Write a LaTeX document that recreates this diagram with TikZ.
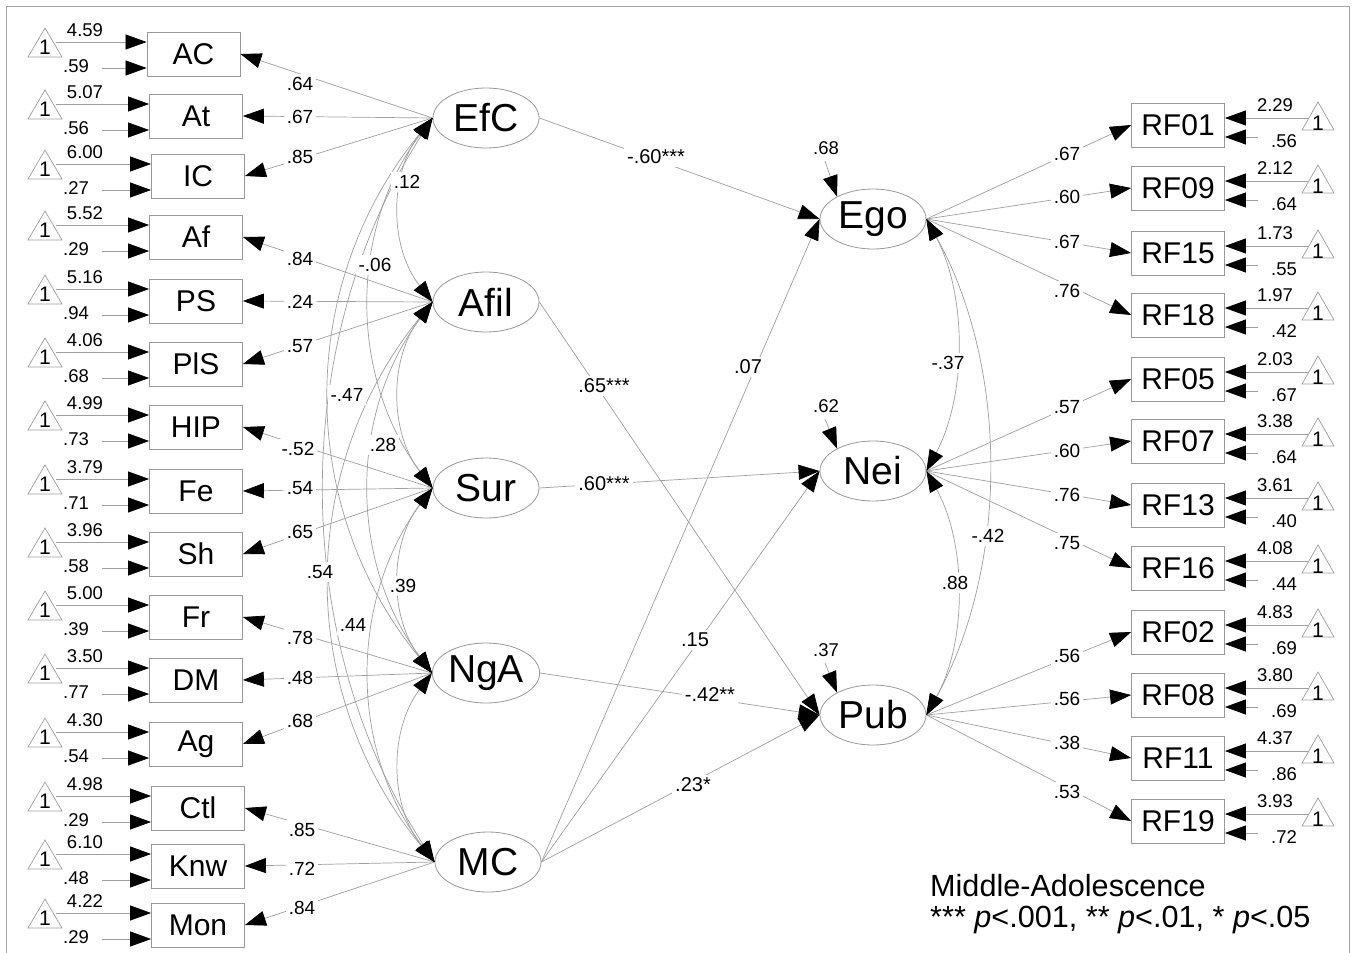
\documentclass[tikz,border=0pt]{standalone}
\usepackage{fontspec}
\setmainfont{Liberation Sans}
\usetikzlibrary{arrows.meta,shapes.geometric}
\begin{document}
\begin{tikzpicture}[x=1pt,y=-1pt,
  ln/.style={draw=gray!75, line width=0.7pt},
  tip/.tip={Triangle[length=21pt,width=15pt,color=black]},
  arr/.style={ln, -tip},
  darr/.style={ln, tip-tip},
  ind/.style={draw=gray!80, line width=0.8pt, minimum width=93pt, minimum height=44pt, inner sep=0pt, font=\fontsize{30}{32}\selectfont},
  lat/.style={draw=gray!80, line width=0.8pt, ellipse, minimum width=106pt, minimum height=60pt, inner sep=0pt, font=\fontsize{39}{40}\selectfont},
  num/.style={font=\fontsize{18.5}{20}\selectfont, inner sep=1pt},
  lab/.style={font=\fontsize{19}{20}\selectfont, fill=white, inner sep=3pt},
  slab/.style={font=\fontsize{20}{22}\selectfont, fill=white, inner sep=3pt},
  one/.style={font=\fontsize{21}{22}\selectfont, inner sep=0pt},
  tri/.style={draw=gray!75, line width=0.7pt},
  legend/.style={font=\fontsize{30.6}{32}\selectfont, anchor=west, inner sep=0pt}
]
\useasboundingbox (0,0) rectangle (1353,953);
\draw[gray!70, line width=0.8pt] (6,965) -- (6,6) -- (1349,6) -- (1349,965);

% latent variables
\node[lat] (EfC) at (486,118) {EfC};
\node[lat] (Afil) at (486,302) {Afil};
\node[lat] (Sur) at (486,488) {Sur};
\node[lat] (NgA) at (486,673) {NgA};
\node[lat] (MC) at (488,862) {MC};
\node[lat] (Ego) at (873,219) {Ego};
\node[lat] (Nei) at (873,471) {Nei};
\node[lat] (Pub) at (873,715) {Pub};

% left indicators
\foreach \n/\c/\bx/\m/\v in {AC/54/193.5/4.59/.59, At/116/196/5.07/.56, IC/176/198/6.00/.27,
  Af/237/196/5.52/.29, PS/301/196/5.16/.94, PlS/364/196/4.06/.68, HIP/427/196/4.99/.73,
  Fe/491/196/3.79/.71, Sh/554/196/3.96/.58, Fr/617/196/5.00/.39, DM/680/196/3.50/.77,
  Ag/744/196/4.30/.54, Ctl/808/198/4.98/.29, Knw/866/198/6.10/.48, Mon/925/198/4.22/.29}{
  \node[ind] (\n) at (\bx,\c) {\n};
  \draw[tri] (45,\c-26) -- (62,\c+3) -- (28,\c+3) -- cycle;
  \node[one] (t\n) at (45,\c-7) {1};
  \coordinate (m\n) at (56,\c-12);
  \coordinate (v\n) at (102,\c+14);
  \draw[arr] (m\n) -- (m\n -| \n.west);
  \draw[arr] (v\n) -- (v\n -| \n.west);
  \node[num] (mm\n) at (85,\c-24) {\m};
  \node[num] (vv\n) at (76,\c+12) {\v};
}

% right indicators
\foreach \n/\c/\m/\v in {RF01/125/2.29/.56, RF09/188/2.12/.64, RF15/253/1.73/.55, RF18/315/1.97/.42,
  RF05/379/2.03/.67, RF07/441/3.38/.64, RF13/505/3.61/.40, RF16/568/4.08/.44,
  RF02/632/4.83/.69, RF08/695/3.80/.69, RF11/758/4.37/.86, RF19/821/3.93/.72}{
  \node[ind] (\n) at (1178,\c) {\n};
  \draw[tri] (1318,\c-23) -- (1334,\c+5) -- (1302,\c+5) -- cycle;
  \node[one] (t\n) at (1318,\c-2) {1};
  \coordinate (m\n) at (1309,\c-7);
  \coordinate (v\n) at (1258,\c+12);
  \draw[arr] (m\n) -- (m\n -| \n.east);
  \draw[arr] (v\n) -- (v\n -| \n.east);
  \node[num] (mm\n) at (1275,\c-20) {\m};
  \node[num] (vv\n) at (1284,\c+16) {\v};
}

% loadings (lines)
\foreach \l/\i in {EfC/AC, EfC/At, EfC/IC, Afil/Af, Afil/PS, Afil/PlS, Sur/HIP, Sur/Fe, Sur/Sh,
  NgA/Fr, NgA/DM, NgA/Ag, MC/Ctl, MC/Knw, MC/Mon}{
  \draw[arr] (\l.west) -- (\i.east);
}
\foreach \l/\i in {Ego/RF01, Ego/RF09, Ego/RF15, Ego/RF18, Nei/RF05, Nei/RF07, Nei/RF13, Nei/RF16,
  Pub/RF02, Pub/RF08, Pub/RF11, Pub/RF19}{
  \draw[arr] (\l.east) -- (\i.west);
}

% covariances left
\draw[darr] (EfC.west) .. controls (389,173) and (389,247) .. (Afil.west);
\draw[darr] (Afil.west) .. controls (389,358) and (389,432) .. (Sur.west);
\draw[darr] (Sur.west) .. controls (389,544) and (389,617) .. (NgA.west);
\draw[darr] (NgA.west) .. controls (389,730) and (389,805) .. (MC.west);
\draw[darr] (EfC.west) .. controls (349,229) and (349,377) .. (Sur.west);
\draw[darr] (Afil.west) .. controls (349,413) and (349,562) .. (NgA.west);
\draw[darr] (Sur.west) .. controls (349,600) and (349,750) .. (MC.west);
\draw[darr] (EfC.west) .. controls (296,285) and (296,506) .. (NgA.west);
\draw[darr] (Afil.west) .. controls (296,470) and (296,694) .. (MC.west);
\draw[darr] (EfC.west) .. controls (289,341) and (289,639) .. (MC.west);

% covariances right
\draw[darr] (Ego.east) .. controls (967,295) and (967,395) .. (Nei.east);
\draw[darr] (Nei.east) .. controls (967,544) and (967,642) .. (Pub.east);
\draw[darr] (Ego.east) .. controls (1009,368) and (1009,566) .. (Pub.east);

% structural paths
\draw[arr] (EfC.east) -- (Ego.west);
\draw[arr] (Afil.east) -- (Pub.west);
\draw[arr] (Sur.east) -- (Nei.west);
\draw[arr] (NgA.east) -- (Pub.west);
\draw[arr] (MC.east) -- (Ego.west);
\draw[arr] (MC.east) -- (Nei.west);
\draw[arr] (MC.east) -- (Pub.west);

% disturbances
\node[num] (dEgo) at (826,148) {.68};
\node[num] (dNei) at (826,406) {.62};
\node[num] (dPub) at (826,650) {.37};
\coordinate (sEgo) at (825,161);
\coordinate (sNei) at (825,419);
\coordinate (sPub) at (825,663);
\draw[arr] (sEgo) -- (Ego.148);
\draw[arr] (sNei) -- (Nei.148);
\draw[arr] (sPub) -- (Pub.148);

% loading labels
\foreach \t/\x/\y in {.64/300/84, .67/300/117, .85/300/157, .84/300/259, .24/300/302, .57/300/346,
  -.52/298/449, .54/300/488, .65/300/532, .78/300/638, .48/300/678, .68/300/721,
  .85/302/830, .72/302/869, .84/302/908,
  .67/1067/154, .60/1067/197, .67/1067/242, .76/1067/291,
  .57/1067/407, .60/1067/451, .76/1067/495, .75/1067/543,
  .56/1067/656, .56/1067/699, .38/1067/743, .53/1067/792}{
  \node[lab] at (\x,\y) {\t};
}
% covariance labels
\foreach \t/\x/\y in {.12/407/182, -.06/375/265, -.47/347/395, .28/383/445, .39/403/586,
  .54/320/572, .44/353/625, -.37/948/363, .88/955/583, -.42/988/536}{
  \node[lab] at (\x,\y) {\t};
}
% structural labels
\node[slab] at (656,157) {-.60***};
\node[slab] at (604,386) {.65***};
\node[slab] at (604,484) {.60***};
\node[slab] at (710,695) {-.42**};
\node[slab] at (748,367) {.07};
\node[slab] at (695,640) {.15};
\node[slab] at (693,785) {.23*};

% legend
\node[legend] (leg1) at (930,886) {Middle-Adolescence};
\node[legend] (leg2) at (930,920) {*** \textit{p}<.001, ** \textit{p}<.01, * \textit{p}<.05};
\end{tikzpicture}
\end{document}
